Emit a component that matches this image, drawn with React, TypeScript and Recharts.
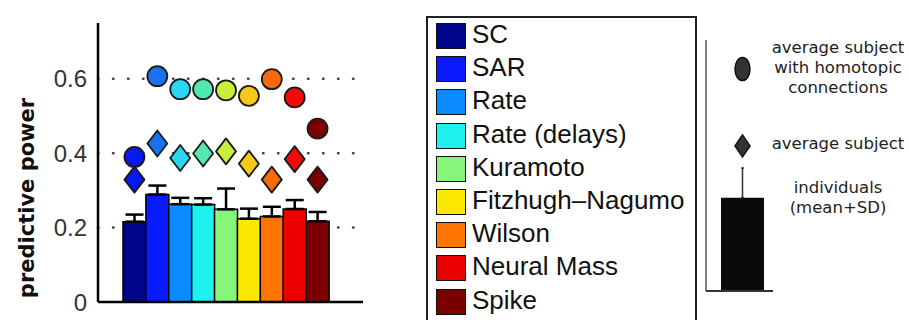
import React from "react";
import {
  Bar,
  CartesianGrid,
  Cell,
  ComposedChart,
  ErrorBar,
  Scatter,
  XAxis,
  YAxis,
} from "recharts";

// Modelle und Werte
const models = ["SC", "SAR", "Rate", "Rate (delays)", "Kuramoto", "Fitzhugh–Nagumo", "Wilson", "Neural Mass", "Spike"];
const individualMean = [0.216, 0.289, 0.263, 0.262, 0.249, 0.224, 0.23, 0.25, 0.217];
const individualSD = [0.019, 0.024, 0.017, 0.017, 0.056, 0.027, 0.026, 0.024, 0.025];
const averageSubject = [0.329, 0.426, 0.387, 0.399, 0.405, 0.372, 0.329, 0.384, 0.329];
const homotopic = [0.39, 0.607, 0.572, 0.572, 0.569, 0.554, 0.599, 0.55, 0.466];
const yTicks = [0, 0.2, 0.4, 0.6];
const gridValues = [0.2, 0.4, 0.6];

const barColors = ["#00068c", "#0a1cff", "#0a8cff", "#1ef2ee", "#86f57a", "#fde800", "#ff7300", "#ec0000", "#7a0000"];
const markerColors = ["#0a18f0", "#1a70f0", "#2ad6f2", "#52e8b2", "#c8ee3a", "#f8c818", "#f86a0a", "#f00a0a", "#7a0000"];

// Schlüssel rechts: ein Beispielbalken
const keyMean = [0.372];
const keySD = [0.118];
const keyDiamond = [0.578];
const keyCircle = [0.884];

const data = models.map((name, i) => ({
  name,
  mean: individualMean[i],
  err: [0, individualSD[i]],
  avg: averageSubject[i],
  homo: homotopic[i],
}));

const keyData = keyMean.map((m, i) => ({
  name: "key",
  mean: m,
  err: [0, keySD[i]],
  avg: keyDiamond[i],
  homo: keyCircle[i],
}));

const Circle = (p: any) => (
  <circle cx={p.cx} cy={p.cy} r={10} fill={p.fill} stroke="#1a1a1a" strokeWidth={1.8} />
);

const Diamond = (p: any) => (
  <polygon
    points={`${p.cx},${p.cy - 13} ${p.cx + 10},${p.cy} ${p.cx},${p.cy + 13} ${p.cx - 10},${p.cy}`}
    fill={p.fill}
    stroke="#1a1a1a"
    strokeWidth={1.8}
    strokeLinejoin="round"
  />
);

const KeyEllipse = (p: any) => (
  <ellipse cx={p.cx} cy={p.cy} rx={7.5} ry={11.5} fill="#333" stroke="#111" strokeWidth={1.5} />
);

const KeyDiamond = (p: any) => (
  <polygon
    points={`${p.cx},${p.cy - 11} ${p.cx + 7.5},${p.cy} ${p.cx},${p.cy + 11} ${p.cx - 7.5},${p.cy}`}
    fill="#333"
    stroke="#111"
    strokeWidth={1.5}
  />
);

const YLabel = () => (
  <text
    x={27}
    y={198}
    transform="rotate(-90 27 198)"
    textAnchor="middle"
    dominantBaseline="central"
    fontFamily="DejaVu Sans"
    fontWeight="bold"
    fontSize={21}
    fill="#111"
  >
    predictive power
  </text>
);

function LegendBox() {
  return (
    <div
      style={{
        position: "absolute",
        left: 426,
        top: 16,
        width: 271,
        height: 320,
        border: "2px solid #222",
        boxSizing: "border-box",
      }}
    >
      {models.map((m, i) => (
        <div key={m} style={{ position: "absolute", left: 8, top: 5 + i * 33.2, height: 26, display: "flex", alignItems: "center" }}>
          <div style={{ width: 30, height: 26, background: barColors[i], border: "1.5px solid #111", boxSizing: "border-box" }} />
          <span
            style={{
              marginLeft: 6,
              fontFamily: "Liberation Sans",
              fontSize: 26,
              lineHeight: "26px",
              color: "#111",
              position: "relative",
              top: -2,
              whiteSpace: "nowrap",
            }}
          >
            {m}
          </span>
        </div>
      ))}
    </div>
  );
}

const keyText: { text: string; y: number }[] = [
  { text: "average subject", y: 48 },
  { text: "with homotopic", y: 68 },
  { text: "connections", y: 88 },
  { text: "average subject", y: 144 },
  { text: "individuals", y: 188 },
  { text: "(mean+SD)", y: 208 },
];

export default function App() {
  return (
    <div style={{ position: "absolute", left: 0, top: 0, width: 909, height: 320, background: "#fff", overflow: "hidden" }}>
      <ComposedChart width={400} height={320} data={data} margin={{ top: 23, right: 37, bottom: 17, left: 0 }} barCategoryGap={0}>
        <CartesianGrid
          vertical={false}
          horizontalValues={gridValues}
          stroke="#444"
          strokeWidth={2.5}
          strokeDasharray="0.5 14.5"
          strokeLinecap="round"
        />
        <XAxis
          dataKey="name"
          type="category"
          height={1}
          tick={false}
          tickLine={false}
          axisLine={{ stroke: "#000", strokeWidth: 2.5 }}
          padding={{ left: 25, right: 34 }}
        />
        <YAxis
          width={98}
          domain={[0, 0.75]}
          ticks={yTicks}
          tickLine={false}
          tickMargin={5}
          axisLine={{ stroke: "#000", strokeWidth: 2.5 }}
          tick={{ fontFamily: "Liberation Sans", fontSize: 24, fill: "#333" }}
          tickFormatter={(v: number) => (v === 0 ? "0" : v.toFixed(1))}
          label={<YLabel />}
        />
        <Bar dataKey="mean" stroke="#000" strokeWidth={1.5} isAnimationActive={false}>
          {data.map((d, i) => (
            <Cell key={d.name} fill={barColors[i]} />
          ))}
          <ErrorBar dataKey="err" direction="y" width={9} stroke="#000" strokeWidth={2.5} />
        </Bar>
        <Scatter dataKey="avg" shape={Diamond} isAnimationActive={false}>
          {data.map((d, i) => (
            <Cell key={d.name} fill={markerColors[i]} />
          ))}
        </Scatter>
        <Scatter dataKey="homo" shape={Circle} isAnimationActive={false}>
          {data.map((d, i) => (
            <Cell key={d.name} fill={markerColors[i]} />
          ))}
        </Scatter>
      </ComposedChart>

      <LegendBox />

      <div style={{ position: "absolute", left: 700, top: 0 }}>
        <ComposedChart width={200} height={320} data={keyData} margin={{ top: 40, right: 127, bottom: 28, left: 0 }} barCategoryGap={0}>
          <XAxis
            dataKey="name"
            type="category"
            height={1}
            tick={false}
            tickLine={false}
            axisLine={{ stroke: "#333", strokeWidth: 2 }}
            padding={{ left: 15, right: 9 }}
          />
          <YAxis width={6} domain={[0, 1]} tick={false} tickLine={false} axisLine={{ stroke: "#555", strokeWidth: 1.5 }} />
          <Bar dataKey="mean" fill="#0a0a0a" isAnimationActive={false}>
            <ErrorBar dataKey="err" direction="y" width={1.5} stroke="#333" strokeWidth={1.5} />
          </Bar>
          <Scatter dataKey="avg" shape={KeyDiamond} isAnimationActive={false} />
          <Scatter dataKey="homo" shape={KeyEllipse} isAnimationActive={false} />
        </ComposedChart>
      </div>

      {keyText.map((t, i) => (
        <div
          key={i}
          style={{
            position: "absolute",
            left: 758,
            width: 160,
            top: t.y - 10,
            height: 20,
            lineHeight: "20px",
            textAlign: "center",
            fontFamily: "DejaVu Sans",
            fontSize: 16.5,
            color: "#222",
            whiteSpace: "nowrap",
          }}
        >
          {t.text}
        </div>
      ))}
    </div>
  );
}
